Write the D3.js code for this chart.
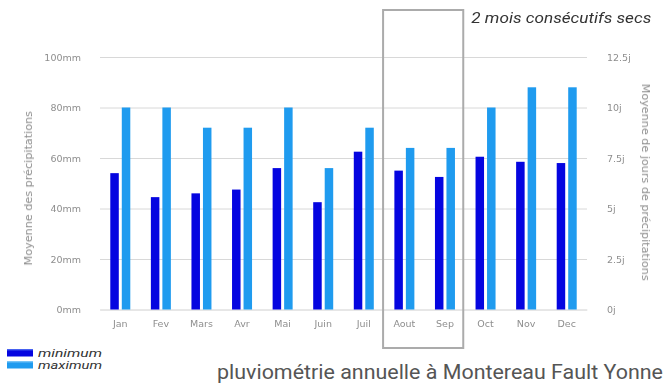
<!DOCTYPE html>
<html>
<head>
<meta charset="utf-8">
<script src="https://cdn.jsdelivr.net/npm/d3@7"></script>
<style>
  html, body { margin: 0; padding: 0; background: #fff; }
  svg { display: block; }
</style>
</head>
<body>
<div id="chart"></div>
<script>
// Monthly rainfall: minimum in mm (left axis), maximum in rainy days (right axis)
const months = ["Jan", "Fev", "Mars", "Avr", "Mai", "Juin", "Juil", "Aout", "Sep", "Oct", "Nov", "Dec"];
const minimumMm = [54, 44.5, 46, 47.5, 56, 42.5, 62.5, 55, 52.5, 60.5, 58.5, 58];
const maximumDays = [10, 10, 9, 9, 10, 7, 9, 8, 8, 10, 11, 11];
const leftTicks = [0, 20, 40, 60, 80, 100];
const rightTicks = [0, 2.5, 5, 7.5, 10, 12.5];
const dryMonths = ["Aout", "Sep"];

const W = 669, H = 385;
const svg = d3.select("#chart").append("svg").attr("width", W).attr("height", H);

const defs = svg.append("defs");
const blur = defs.append("filter").attr("id", "soft").attr("x", "-10%").attr("y", "-10%").attr("width", "120%").attr("height", "120%");
blur.append("feGaussianBlur").attr("stdDeviation", 0.5);

function swatchGrad(id, top, main) {
  const g = defs.append("linearGradient").attr("id", id).attr("x1", 0).attr("y1", 0).attr("x2", 0).attr("y2", 1);
  g.append("stop").attr("offset", "0%").attr("stop-color", top);
  g.append("stop").attr("offset", "30%").attr("stop-color", main);
  g.append("stop").attr("offset", "100%").attr("stop-color", main);
}
const minColor = "#0505e0", maxColor = "#1f9bef";
swatchGrad("gMin", "#5a7cf5", minColor);
swatchGrad("gMax", "#8fd0fa", maxColor);

const plot = { left: 100, right: 587, top: 57, bottom: 309.5 };
const axisFont = "DejaVu Sans, Verdana, sans-serif";
const axisColor = "#8e8e8e";

const x = d3.scaleBand().domain(months).range([plot.left, plot.right]);
const yMm = d3.scaleLinear().domain([0, 100]).range([plot.bottom, plot.top]);
const yDays = d3.scaleLinear().domain([0, 12.5]).range([plot.bottom, plot.top]);

const chart = svg.append("g").attr("filter", "url(#soft)");

// horizontal grid
chart.append("g")
  .attr("transform", `translate(${plot.left},0)`)
  .call(d3.axisLeft(yMm).tickValues(leftTicks).tickSize(-(plot.right - plot.left)).tickFormat(""))
  .call(g => g.select(".domain").remove())
  .call(g => g.selectAll("line").attr("stroke", "#d8d8d8").attr("stroke-width", 1));

const styleText = g => g.selectAll("text").attr("fill", axisColor).attr("font-size", 9.5).attr("font-family", axisFont);

// left axis labels
chart.append("g")
  .attr("transform", `translate(${plot.left - 16},0)`)
  .call(d3.axisLeft(yMm).tickValues(leftTicks).tickSize(0).tickFormat(d => d + "mm"))
  .call(g => g.select(".domain").remove())
  .call(styleText);

// right axis labels
chart.append("g")
  .attr("transform", `translate(${plot.right + 17},0)`)
  .call(d3.axisRight(yDays).tickValues(rightTicks).tickSize(0).tickFormat(d => String(d) + "j"))
  .call(g => g.select(".domain").remove())
  .call(styleText);

// x axis
chart.append("g")
  .attr("transform", `translate(0,${plot.bottom})`)
  .call(d3.axisBottom(x).tickSize(0).tickPadding(11))
  .call(g => g.select(".domain").attr("stroke", "#e2e2e2"))
  .call(styleText);

// axis titles
chart.append("text")
  .attr("transform", `translate(32,${(plot.top + plot.bottom) / 2 + 5}) rotate(-90)`)
  .attr("text-anchor", "middle")
  .attr("fill", axisColor).attr("font-size", 11.2).attr("font-family", axisFont)
  .text("Moyenne des précipitations");
chart.append("text")
  .attr("transform", `translate(642,${(plot.top + plot.bottom) / 2 - 1}) rotate(90)`)
  .attr("text-anchor", "middle")
  .attr("fill", axisColor).attr("font-size", 11.2).attr("font-family", axisFont)
  .text("Moyenne de jours de précipitations");

// bars
const barW = 8.5, gap = 3;
const bars = svg.append("g");
bars.selectAll("rect.min").data(months).join("rect")
  .attr("class", "min")
  .attr("x", (m) => x(m) + x.bandwidth() / 2 - gap / 2 - barW)
  .attr("width", barW)
  .attr("y", (m, i) => yMm(minimumMm[i]))
  .attr("height", (m, i) => plot.bottom - yMm(minimumMm[i]))
  .attr("fill", minColor);
bars.selectAll("rect.max").data(months).join("rect")
  .attr("class", "max")
  .attr("x", (m) => x(m) + x.bandwidth() / 2 + gap / 2)
  .attr("width", barW)
  .attr("y", (m, i) => yDays(maximumDays[i]))
  .attr("height", (m, i) => plot.bottom - yDays(maximumDays[i]))
  .attr("fill", maxColor);

// highlight of the dry months
const hx0 = x(dryMonths[0]) - 1, hx1 = x(dryMonths[dryMonths.length - 1]) + x.bandwidth() - 2;
svg.append("rect")
  .attr("x", hx0).attr("y", 10)
  .attr("width", hx1 - hx0).attr("height", 338)
  .attr("fill", "none").attr("stroke", "#ababab").attr("stroke-width", 2);
svg.append("text")
  .attr("x", hx1 + 8).attr("y", 23)
  .attr("fill", "#333").attr("font-size", 14).attr("font-style", "italic")
  .attr("font-family", "Roboto, sans-serif")
  .attr("textLength", 180).attr("lengthAdjust", "spacingAndGlyphs")
  .text("2 mois consécutifs secs");

// legend
const legend = svg.append("g").attr("transform", "translate(7,349)");
[["minimum", "gMin"], ["maximum", "gMax"]].forEach(([label, grad], i) => {
  legend.append("rect").attr("x", 0).attr("y", i * 12).attr("width", 26).attr("height", 7.5).attr("fill", `url(#${grad})`);
  legend.append("text").attr("x", 31).attr("y", i * 12 + 8)
    .attr("fill", "#333").attr("font-size", 10.2).attr("font-style", "italic")
    .attr("font-family", "Roboto, sans-serif")
    .attr("textLength", 64).attr("lengthAdjust", "spacingAndGlyphs")
    .text(label);
});

// title
svg.append("text")
  .attr("x", 217).attr("y", 379)
  .attr("fill", "#555").attr("font-size", 19.5)
  .attr("font-family", "Roboto, sans-serif")
  .attr("textLength", 446).attr("lengthAdjust", "spacingAndGlyphs")
  .text("pluviométrie annuelle à Montereau Fault Yonne");
</script>
</body>
</html>
